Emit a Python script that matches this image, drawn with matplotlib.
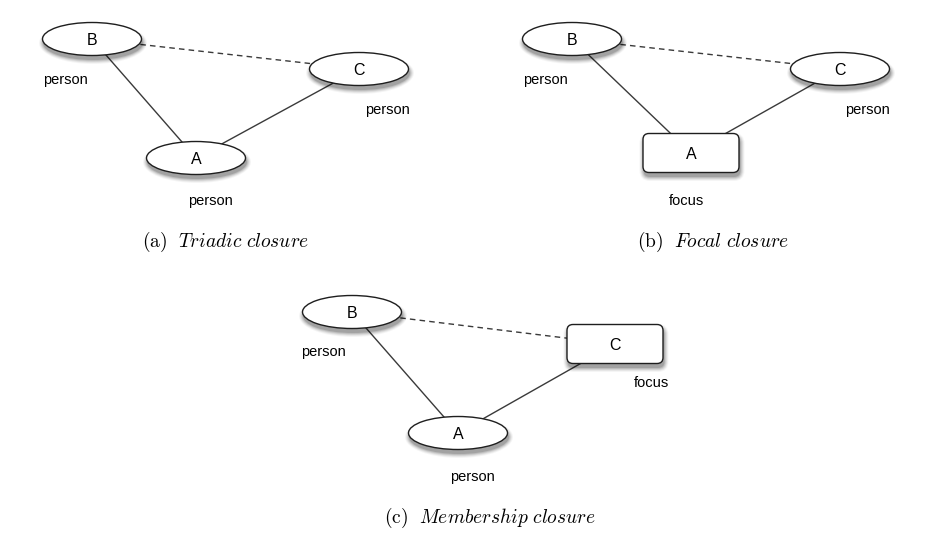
import matplotlib
matplotlib.use('Agg')
import matplotlib.pyplot as plt
from matplotlib.patches import Ellipse, FancyBboxPatch

plt.rcParams['font.family'] = ['Liberation Sans', 'DejaVu Sans']
plt.rcParams['mathtext.fontset'] = 'cm'

# three small diagrams: node letters, node kinds and the labels under them
panel_names = ['Triadic closure', 'Focal closure', 'Membership closure']
panel_tags = ['(a)', '(b)', '(c)']
node_names = ['A', 'B', 'C']
node_kinds = [['person', 'person', 'person'],
              ['focus', 'person', 'person'],
              ['person', 'person', 'focus']]
solid_edges = [('B', 'A'), ('C', 'A')]
dashed_edges = [('B', 'C')]

# layout, in pixels of the 932x546 picture
node_pos = [
    {'A': (196, 158), 'B': (92, 39), 'C': (359, 69)},
    {'A': (691, 153), 'B': (572, 39), 'C': (840, 69)},
    {'A': (458, 433), 'B': (352, 312), 'C': (615, 344)},
]
label_pos = [
    {'A': (210, 205), 'B': (65, 84), 'C': (387, 114)},
    {'A': (686, 205), 'B': (545, 84), 'C': (867, 114)},
    {'A': (472, 481), 'B': (323, 356), 'C': (651, 387)},
]
caption_pos = [(226, 242), (713, 242), (490, 518)]

W, H = 932, 546
fig = plt.figure(figsize=(W / 100, H / 100), dpi=100)
ax = fig.add_axes([0, 0, 1, 1])
ax.set_xlim(0, W)
ax.set_ylim(H, 0)
ax.set_aspect('equal')
ax.axis('off')

ew, eh = 99, 33
rw, rh = 96, 39
line_col = '#3a3a3a'


def make_shape(kind, x, y, grow=0.0, **kw):
    if kind == 'person':
        return Ellipse((x, y), ew + grow, eh + grow, **kw)
    r = 6 + grow / 2
    return FancyBboxPatch((x - rw / 2 - grow / 2 + r, y - rh / 2 - grow / 2 + r),
                          rw + grow - 2 * r, rh + grow - 2 * r,
                          boxstyle='round,pad=%g' % r, mutation_aspect=1, **kw)


for p in range(3):
    pos = node_pos[p]
    for a, b in solid_edges:
        ax.plot([pos[a][0], pos[b][0]], [pos[a][1], pos[b][1]],
                color=line_col, lw=1.0, zorder=1, solid_capstyle='butt')
    for a, b in dashed_edges:
        ax.plot([pos[a][0], pos[b][0]], [pos[a][1], pos[b][1]],
                color=line_col, lw=1.0, zorder=1, dashes=(4, 3))

    for i, n in enumerate(node_names):
        kind = node_kinds[p][i]
        x, y = pos[n]
        # soft drop shadow
        for g, al in [(9, 0.04), (7, 0.06), (5, 0.08), (3, 0.10), (1, 0.14)]:
            ax.add_patch(make_shape(kind, x + 1, y + 4, grow=g, facecolor='black',
                                    edgecolor='none', alpha=al, zorder=2))
        ax.add_patch(make_shape(kind, x, y, facecolor='white', edgecolor='#1e1e1e',
                                lw=1.0, zorder=3))
        ax.text(x, y + 5.6, n, ha='center', va='baseline', fontsize=11.5, zorder=4)
        lx, ly = label_pos[p][n]
        ax.text(lx, ly, kind, ha='center', va='baseline', fontsize=10.5, zorder=4)

    cx, cy = caption_pos[p]
    cap = panel_names[p].replace(' ', r'\ ')
    ax.text(cx, cy, r'$\mathrm{%s}\ \ \mathit{%s}$' % (panel_tags[p], cap),
            ha='center', va='center', fontsize=14)

fig.savefig('out.png', dpi=100)
